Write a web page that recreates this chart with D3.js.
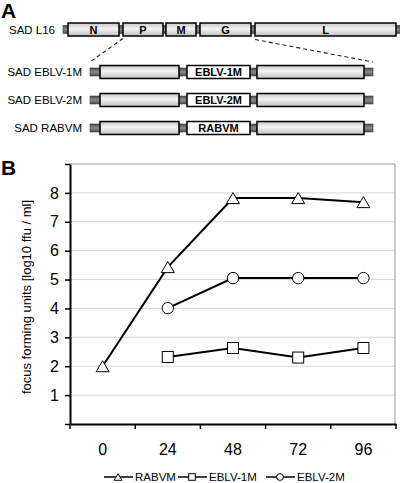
<!DOCTYPE html>
<html><head><meta charset="utf-8">
<script src="https://cdn.jsdelivr.net/npm/d3@7"></script>
<style>body{margin:0;background:#fff}svg{display:block;font-family:"Liberation Sans",Arial,sans-serif}</style>
</head><body>
<svg id="c" width="400" height="483"></svg>
<script>
// ---------- Panel A data (genome map, schematic units) ----------
const geneNames = ["N","P","M","G","L"];
const geneStart = [5, 60, 103, 137, 192];
const geneEnd   = [56, 100, 133, 188, 333];
const genomeLength = [0, 337];
const chimeraNames = ["SAD EBLV-1M","SAD EBLV-2M","SAD RABVM"];
const chimeraInsert = ["EBLV-1M","EBLV-2M","RABVM"];
// chimera block: segments in the same units (zoomed region P..L)
const chimeraSegStart = [37, 124, 194];
const chimeraSegEnd   = [116, 187, 301];
const chimeraLength = [27, 310];

// ---------- Panel B data ----------
const timePoints = ["0","24","48","72","96"];
const yTicks = [1,2,3,4,5,6,7,8];
const rabvm  = [2.0, 5.43, 7.82, 7.82, 7.68];
const eblv1m = [null, 2.32, 2.63, 2.30, 2.63];
const eblv2m = [null, 4.01, 5.05, 5.05, 5.05];
const seriesNames = ["RABVM","EBLV-1M","EBLV-2M"];

(function(){
const svg = d3.select("#c");
const defs = svg.append("defs");
const g1 = defs.append("linearGradient").attr("id","boxg").attr("x1",0).attr("x2",0).attr("y1",0).attr("y2",1);
g1.append("stop").attr("offset","0%").attr("stop-color","#c4c4c4");
g1.append("stop").attr("offset","45%").attr("stop-color","#f4f4f4");
g1.append("stop").attr("offset","100%").attr("stop-color","#bdbdbd");
const g2 = defs.append("linearGradient").attr("id","cong").attr("x1",0).attr("x2",0).attr("y1",0).attr("y2",1);
g2.append("stop").attr("offset","0%").attr("stop-color","#4a4a4a");
g2.append("stop").attr("offset","50%").attr("stop-color","#8a8a8a");
g2.append("stop").attr("offset","100%").attr("stop-color","#4a4a4a");

// panel labels
svg.append("text").attr("x",1).attr("y",18).attr("font-size",21).attr("font-weight","bold").text("A");
svg.append("text").attr("x",1).attr("y",175).attr("font-size",21).attr("font-weight","bold").text("B");

// ---------- Panel A ----------
const xa = d3.scaleLinear().domain([0,337]).range([63,400]);
const rowH = 13, conH = 8;
function drawConnector(x0,x1,cy){
  svg.append("rect").attr("x",x0).attr("y",cy-conH/2).attr("width",x1-x0).attr("height",conH)
    .attr("fill","url(#cong)").attr("stroke","#3a3a3a").attr("stroke-width",0.6);
}
function drawBox(x0,x1,cy,fill,label){
  svg.append("rect").attr("x",x0).attr("y",cy-rowH/2).attr("width",x1-x0).attr("height",rowH)
    .attr("fill",fill).attr("stroke","#000").attr("stroke-width",1.5);
  if(label) svg.append("text").attr("x",(x0+x1)/2).attr("y",cy+4).attr("text-anchor","middle")
    .attr("font-size",11).attr("font-weight","bold").text(label);
}
const l16y = 29.5;
drawConnector(xa(genomeLength[0]), xa(genomeLength[1]), l16y);
geneNames.forEach((n,i)=>drawBox(xa(geneStart[i]),xa(geneEnd[i]),l16y,"url(#boxg)",n));
svg.append("text").attr("x",55).attr("y",l16y+4).attr("text-anchor","end").attr("font-size",11.5).text("SAD L16");

const rowY = [72, 100, 128];
chimeraNames.forEach((name,r)=>{
  const cy = rowY[r];
  drawConnector(xa(chimeraLength[0]), xa(chimeraLength[1]), cy);
  chimeraSegStart.forEach((s,i)=>{
    drawBox(xa(s), xa(chimeraSegEnd[i]), cy, i===1?"#fff":"url(#boxg)", i===1?chimeraInsert[r]:null);
  });
  svg.append("text").attr("x",82).attr("y",cy+4).attr("text-anchor","end").attr("font-size",11.5).text(name);
});
// dashed zoom lines
svg.append("line").attr("x1",xa(geneStart[1])).attr("y1",l16y+9).attr("x2",xa(chimeraLength[0])).attr("y2",rowY[0]-10)
  .attr("stroke","#222").attr("stroke-width",1.1).attr("stroke-dasharray","4,3");
svg.append("line").attr("x1",xa(geneStart[4])).attr("y1",l16y+10).attr("x2",xa(chimeraLength[1])).attr("y2",rowY[0]-10)
  .attr("stroke","#222").attr("stroke-width",1.1).attr("stroke-dasharray","4,3");

// ---------- Panel B ----------
const pLeft = 70, pRight = 396, pTop = 164, pBottom = 424;
const x = d3.scaleBand().domain(timePoints).range([pLeft,pRight]);
const y = d3.scaleLinear().domain([0,9]).range([pBottom,pTop]);

// gridlines
svg.append("g").selectAll("line").data(yTicks).join("line")
  .attr("x1",pLeft).attr("x2",pRight-1).attr("y1",d=>y(d)).attr("y2",d=>y(d))
  .attr("stroke","#d8d8d8").attr("stroke-width",1);
// frame top/right
svg.append("line").attr("x1",pLeft).attr("x2",pRight-1).attr("y1",pTop).attr("y2",pTop).attr("stroke","#999");
svg.append("line").attr("x1",pRight-1).attr("x2",pRight-1).attr("y1",pTop).attr("y2",pBottom).attr("stroke","#999");

// y axis
const yAx = svg.append("g").attr("transform",`translate(${pLeft},0)`)
  .call(d3.axisLeft(y).tickValues([0,...yTicks,9]).tickFormat(d=>(d>=1&&d<=8)?d:"").tickSize(5).tickSizeOuter(0));
yAx.select(".domain").attr("stroke","#000").attr("stroke-width",2);
yAx.selectAll(".tick line").attr("stroke","#000").attr("stroke-width",1.5);
yAx.selectAll("text").attr("font-size",16).attr("font-family","Liberation Sans, Arial").attr("fill","#000").attr("x",-11);

// x axis
const xAx = svg.append("g").attr("transform",`translate(0,${pBottom})`)
  .call(d3.axisBottom(x).tickSize(0).tickPadding(20));
xAx.select(".domain").attr("stroke","#000").attr("stroke-width",2);
xAx.selectAll("text").attr("font-size",16).attr("font-family","Liberation Sans, Arial").attr("fill","#000");
const bounds = timePoints.map(t=>x(t)).concat([pRight]);
svg.append("g").selectAll("line").data(bounds).join("line")
  .attr("x1",d=>d).attr("x2",d=>d).attr("y1",pBottom).attr("y2",pBottom+5)
  .attr("stroke","#000").attr("stroke-width",1.5);

// axis title
svg.append("text").attr("transform",`translate(31,${(pTop+pBottom)/2+3}) rotate(-90)`)
  .attr("text-anchor","middle").attr("font-size",13).text("focus forming units [log10 ffu / ml]");

const cx = t=>x(t)+x.bandwidth()/2;
const lineGen = d3.line().defined(d=>d.v!=null).x(d=>cx(d.t)).y(d=>y(d.v));
const allSeries = [rabvm, eblv1m, eblv2m];
const shapes = ["tri","sq","circ"];
function marker(sel, shape, px, py, s){
  if(shape==="tri"){
    const w=13*s, h=11*s;
    sel.append("path").attr("d",`M${px},${py-h/2}L${px+w/2},${py+h/2}L${px-w/2},${py+h/2}Z`)
      .attr("fill","#fff").attr("stroke","#000").attr("stroke-width",1);
  } else if(shape==="sq"){
    const w=11*s;
    sel.append("rect").attr("x",px-w/2).attr("y",py-w/2).attr("width",w).attr("height",w)
      .attr("fill","#fff").attr("stroke","#000").attr("stroke-width",1);
  } else {
    sel.append("circle").attr("cx",px).attr("cy",py).attr("r",5.7*s)
      .attr("fill","#fff").attr("stroke","#000").attr("stroke-width",1);
  }
}
const plot = svg.append("g");
allSeries.forEach((vals,i)=>{
  const pts = timePoints.map((t,j)=>({t,v:vals[j]}));
  plot.append("path").datum(pts).attr("d",lineGen).attr("fill","none").attr("stroke","#000").attr("stroke-width",2);
});
allSeries.forEach((vals,i)=>{
  timePoints.forEach((t,j)=>{ if(vals[j]!=null) marker(plot, shapes[i], cx(t), y(vals[j]), 1); });
});

// legend
const legX = [104, 178, 266], legY = 477;
const leg = svg.append("g");
seriesNames.forEach((n,i)=>{
  const x0 = legX[i];
  leg.append("line").attr("x1",x0).attr("x2",x0+29).attr("y1",legY).attr("y2",legY).attr("stroke","#000").attr("stroke-width",1.5);
  marker(leg, shapes[i], x0+14, legY, 0.6);
  leg.append("text").attr("x",x0+31).attr("y",legY+4).attr("font-size",11.5).text(n);
});
})();
</script>
</body></html>
